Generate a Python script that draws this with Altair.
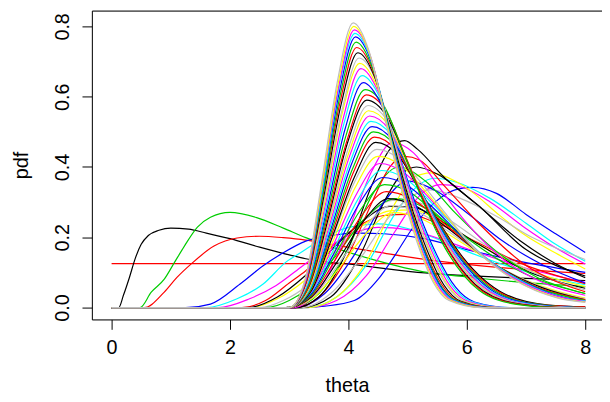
import altair as alt
import pandas as pd

# R default palette (pre-4.0)
PALETTE = ["#000000", "#FF0000", "#00CD00", "#0000FF", "#00FFFF", "#FF00FF", "#FFFF00", "#BEBEBE"]

x_ticks = [0, 2, 4, 6, 8]
y_ticks = [0.0, 0.2, 0.4, 0.6, 0.8]

# ---- early posteriors (theta, pdf) ----
early_curves = [
    [(0, 0.125), (8, 0.125)],
    [(0, 0), (0.12, 0), (0.2, 0.035), (0.3, 0.085), (0.4, 0.14), (0.5, 0.18), (0.62, 0.205), (0.8, 0.22), (1.0, 0.226), (1.3, 0.223), (1.6, 0.212), (2.0, 0.196), (2.5, 0.172), (3.0, 0.15), (3.28, 0.139), (4.2, 0.12), (5.17, 0.10), (6.0, 0.091), (7.0, 0.083), (8.0, 0.077)],
    [(0, 0), (0.48, 0), (0.67, 0.044), (0.89, 0.081), (1.05, 0.125), (1.23, 0.175), (1.45, 0.229), (1.67, 0.257), (2.0, 0.271), (2.45, 0.256), (2.9, 0.226), (3.28, 0.199), (3.95, 0.16), (4.45, 0.135), (5.33, 0.1), (6.0, 0.087), (7.0, 0.071), (8.0, 0.06)],
    [(0, 0), (0.55, 0), (0.89, 0.044), (1.1, 0.085), (1.35, 0.125), (1.73, 0.175), (2.12, 0.198), (2.5, 0.203), (2.9, 0.199), (3.28, 0.192), (3.62, 0.182), (4.5, 0.158), (5.17, 0.14), (6.0, 0.123), (7.0, 0.108), (8.0, 0.097)],
    [(0, 0), (1.25, 0), (1.67, 0.01), (2.17, 0.067), (2.56, 0.119), (2.9, 0.156), (3.28, 0.189), (3.7, 0.205), (4.2, 0.212), (4.6, 0.21), (5.28, 0.196), (6.0, 0.165), (7.0, 0.128), (8.0, 0.1)],
    [(0, 0), (1.6, 0), (2.12, 0.025), (2.56, 0.067), (2.95, 0.13), (3.23, 0.16), (3.6, 0.2), (4.0, 0.228), (4.5, 0.238), (5.0, 0.225), (5.5, 0.195), (6.0, 0.16), (7.0, 0.102), (8.0, 0.065)],
    [(0, 0), (1.8, 0), (2.33, 0.025), (2.78, 0.063), (3.23, 0.119), (3.6, 0.165), (4.0, 0.205), (4.5, 0.228), (5.0, 0.222), (5.5, 0.198), (6.0, 0.168), (7.0, 0.112), (8.0, 0.072)],
    [(0, 0), (2.2, 0), (2.6, 0.02), (3.0, 0.07), (3.28, 0.105), (3.7, 0.17), (4.2, 0.235), (4.6, 0.262), (5.0, 0.265), (5.5, 0.24), (6.0, 0.2), (7.0, 0.12), (8.0, 0.068)],
    [(0, 0), (2.35, 0), (2.8, 0.025), (3.28, 0.08), (3.7, 0.15), (4.2, 0.228), (4.7, 0.275), (5.1, 0.278), (5.6, 0.24), (6.2, 0.18), (7.0, 0.11), (8.0, 0.06)],
    [(0, 0), (2.3, 0), (2.8, 0.03), (3.28, 0.092), (3.75, 0.17), (4.25, 0.248), (4.7, 0.288), (5.1, 0.285), (5.6, 0.243), (6.2, 0.18), (7.0, 0.105), (8.0, 0.055)],
    [(0, 0), (2.5, 0), (2.9, 0.02), (3.28, 0.06), (3.8, 0.16), (4.3, 0.255), (4.75, 0.305), (5.2, 0.298), (5.7, 0.25), (6.3, 0.18), (7.0, 0.11), (8.0, 0.05)],
    [(0, 0), (2.6, 0), (3.0, 0.02), (3.28, 0.05), (3.8, 0.15), (4.3, 0.258), (4.8, 0.31), (5.3, 0.283), (5.8, 0.222), (6.5, 0.14), (7.2, 0.08), (8.0, 0.04)],
]
early_colors = ["#FF0000", "#000000", "#00CD00", "#FF0000", "#0000FF", "#00FFFF",
                "#FF00FF", "#FF0000", "#FFFF00", "#000000", "#BEBEBE", "#00CD00"]

# ---- wide / heavy-tailed posteriors ----
wide_curves = [
    [(0, 0), (3.2, 0), (3.6, 0.004), (4.1, 0.02), (4.5, 0.08), (4.78, 0.147), (5.1, 0.23), (5.5, 0.305), (5.8, 0.335), (6.1, 0.342), (6.5, 0.325), (7.0, 0.265), (7.5, 0.21), (8.0, 0.157)],
    [(0, 0), (3.3, 0), (3.8, 0.02), (4.3, 0.09), (4.8, 0.22), (5.2, 0.318), (5.55, 0.35), (5.9, 0.343), (6.4, 0.3), (6.95, 0.231), (7.5, 0.17), (8.0, 0.124)],
    [(0, 0), (3.3, 0), (3.8, 0.03), (4.3, 0.12), (4.8, 0.27), (5.2, 0.35), (5.45, 0.368), (5.8, 0.358), (6.4, 0.31), (7.0, 0.24), (7.5, 0.18), (8.0, 0.132)],
    [(0, 0), (3.3, 0), (3.8, 0.03), (4.3, 0.13), (4.8, 0.3), (5.1, 0.37), (5.4, 0.383), (5.8, 0.36), (6.12, 0.325), (6.5, 0.27), (6.95, 0.21), (7.5, 0.155), (8.0, 0.11)],
    [(0, 0), (3.2, 0), (3.7, 0.03), (4.2, 0.15), (4.6, 0.3), (4.9, 0.38), (5.15, 0.4), (5.5, 0.38), (6.12, 0.3), (6.9, 0.19), (7.5, 0.125), (8.0, 0.085)],
    [(0, 0), (3.2, 0), (3.7, 0.04), (4.2, 0.14), (4.7, 0.26), (5.1, 0.32), (5.4, 0.335), (5.9, 0.31), (6.5, 0.26), (7.1, 0.2), (7.6, 0.163), (8.0, 0.137)],
    [(0, 0), (3.1, 0), (3.6, 0.04), (4.1, 0.15), (4.6, 0.3), (5.0, 0.36), (5.5, 0.33), (6.0, 0.27), (6.6, 0.19), (7.3, 0.12), (8.0, 0.07)],
    [(0, 0), (3.05, 0), (3.5, 0.04), (4.0, 0.17), (4.4, 0.32), (4.85, 0.4), (5.3, 0.36), (5.8, 0.27), (6.5, 0.16), (7.2, 0.085), (8.0, 0.04)],
    [(0, 0), (3.1, 0), (3.5, 0.03), (4.0, 0.15), (4.4, 0.3), (4.7, 0.4), (4.95, 0.43), (5.2, 0.42), (5.6, 0.35), (6.2, 0.24), (7.0, 0.12), (7.5, 0.075), (8.0, 0.045)],
    [(0, 0), (3.1, 0), (3.5, 0.03), (4.0, 0.17), (4.4, 0.35), (4.7, 0.45), (4.95, 0.475), (5.17, 0.45), (5.62, 0.37), (6.22, 0.287), (7.0, 0.165), (7.5, 0.12), (8.0, 0.09)],
    [(0, 0), (3.05, 0), (3.5, 0.05), (4.0, 0.22), (4.4, 0.39), (4.75, 0.47), (5.1, 0.44), (5.5, 0.35), (6.0, 0.24), (6.6, 0.14), (7.3, 0.07), (8.0, 0.035)],
]
wide_colors = ["#0000FF", "#FF00FF", "#00FFFF", "#FFFF00", "#000000", "#BEBEBE",
               "#0000FF", "#00CD00", "#FF0000", "#000000", "#FF00FF"]

# ---- main bundle, lowest to tallest (drawn in this order); all zero from theta = 0 ----
low_curves = [
    [(2.95, 0), (3.40, 0.027), (3.86, 0.116), (4.31, 0.213), (4.76, 0.270), (5.21, 0.254), (5.67, 0.211), (6.12, 0.162), (6.57, 0.113), (7.48, 0.049), (8.0, 0.027)],
    [(2.95, 0), (3.39, 0.029), (3.84, 0.125), (4.28, 0.229), (4.72, 0.290), (5.16, 0.273), (5.61, 0.226), (6.05, 0.174), (6.49, 0.122), (7.38, 0.052), (8.0, 0.025)],
    [(2.95, 0), (3.38, 0.031), (3.82, 0.133), (4.25, 0.245), (4.68, 0.310), (5.11, 0.291), (5.55, 0.242), (5.98, 0.186), (6.41, 0.130), (7.28, 0.056), (8.0, 0.022)],
    [(2.95, 0), (3.37, 0.033), (3.80, 0.142), (4.22, 0.261), (4.64, 0.330), (5.06, 0.310), (5.49, 0.257), (5.91, 0.198), (6.33, 0.139), (7.18, 0.059), (8.0, 0.022)],
    [(2.95, 0), (3.37, 0.035), (3.78, 0.151), (4.20, 0.277), (4.61, 0.350), (5.03, 0.329), (5.44, 0.273), (5.86, 0.210), (6.27, 0.147), (7.10, 0.063), (8.0, 0.020)],
    [(2.95, 0), (3.36, 0.037), (3.77, 0.159), (4.17, 0.292), (4.58, 0.370), (4.99, 0.348), (5.40, 0.289), (5.80, 0.222), (6.21, 0.155), (7.03, 0.067), (7.84, 0.022), (8.0, 0.019)],
    [(2.95, 0), (3.35, 0.039), (3.76, 0.168), (4.16, 0.308), (4.56, 0.390), (4.96, 0.367), (5.37, 0.304), (5.77, 0.234), (6.17, 0.164), (6.98, 0.070), (7.78, 0.023), (8.0, 0.019)],
    [(2.95, 0), (3.35, 0.041), (3.74, 0.176), (4.14, 0.324), (4.53, 0.410), (4.93, 0.385), (5.32, 0.320), (5.72, 0.246), (6.11, 0.172), (6.90, 0.074), (7.69, 0.025), (8.0, 0.017)],
    [(2.95, 0), (3.34, 0.043), (3.73, 0.185), (4.11, 0.340), (4.50, 0.430), (4.89, 0.404), (5.28, 0.335), (5.66, 0.258), (6.05, 0.181), (6.83, 0.077), (7.60, 0.026), (8.0, 0.016)],
    [(2.95, 0), (3.33, 0.045), (3.72, 0.194), (4.10, 0.356), (4.48, 0.450), (4.86, 0.423), (5.25, 0.351), (5.63, 0.270), (6.01, 0.189), (6.78, 0.081), (7.54, 0.027), (8.0, 0.015)],
]
mid_curves = [
    [(3.0, 0), (3.37, 0.047), (3.73, 0.202), (4.10, 0.371), (4.46, 0.470), (4.83, 0.435), (5.19, 0.338), (5.56, 0.235), (5.92, 0.146), (6.65, 0.038), (7.38, 0.007), (8.0, 0.002)],
    [(3.0, 0), (3.36, 0.049), (3.72, 0.209), (4.08, 0.383), (4.44, 0.485), (4.80, 0.449), (5.16, 0.349), (5.52, 0.243), (5.88, 0.150), (6.60, 0.039), (7.32, 0.007), (8.0, 0.002)],
    [(3.0, 0), (3.36, 0.050), (3.71, 0.215), (4.07, 0.395), (4.42, 0.500), (4.78, 0.463), (5.13, 0.360), (5.49, 0.250), (5.84, 0.155), (6.55, 0.040), (7.26, 0.008), (7.97, 0), (8.0, 0)],
    [(3.0, 0), (3.35, 0.052), (3.70, 0.221), (4.05, 0.407), (4.40, 0.515), (4.75, 0.476), (5.10, 0.371), (5.45, 0.258), (5.80, 0.160), (6.50, 0.041), (7.20, 0.008), (7.90, 0), (8.0, 0)],
    [(3.0, 0), (3.35, 0.053), (3.69, 0.228), (4.04, 0.419), (4.38, 0.530), (4.73, 0.490), (5.07, 0.382), (5.42, 0.265), (5.76, 0.164), (6.45, 0.042), (7.14, 0.008), (7.83, 0), (8.0, 0)],
    [(3.0, 0), (3.34, 0.055), (3.68, 0.234), (4.02, 0.431), (4.36, 0.545), (4.70, 0.504), (5.04, 0.392), (5.38, 0.273), (5.72, 0.169), (6.40, 0.044), (7.08, 0.008), (7.76, 0), (8.0, 0)],
    [(3.0, 0), (3.34, 0.056), (3.67, 0.241), (4.01, 0.442), (4.34, 0.560), (4.68, 0.518), (5.01, 0.403), (5.35, 0.280), (5.68, 0.174), (6.35, 0.045), (7.02, 0.008), (7.69, 0), (8.0, 0)],
    [(3.0, 0), (3.33, 0.058), (3.67, 0.247), (4.00, 0.454), (4.33, 0.575), (4.66, 0.532), (5.00, 0.414), (5.33, 0.288), (5.66, 0.178), (6.33, 0.046), (6.99, 0.009), (7.66, 0), (8.0, 0)],
    [(3.0, 0), (3.33, 0.059), (3.66, 0.254), (3.98, 0.466), (4.31, 0.590), (4.64, 0.546), (4.97, 0.425), (5.29, 0.295), (5.62, 0.183), (6.28, 0.047), (6.93, 0.009), (7.59, 0), (8.0, 0)],
    [(3.0, 0), (3.33, 0.061), (3.65, 0.260), (3.98, 0.478), (4.30, 0.605), (4.63, 0.560), (4.95, 0.436), (5.28, 0.303), (5.60, 0.188), (6.25, 0.048), (6.90, 0.009), (7.55, 0), (8.0, 0)],
    [(3.0, 0), (3.32, 0.062), (3.64, 0.267), (3.96, 0.490), (4.28, 0.620), (4.60, 0.574), (4.92, 0.446), (5.24, 0.310), (5.56, 0.192), (6.20, 0.050), (6.84, 0.009), (7.48, 0), (8.0, 0)],
]
tall_curves = [
    [(3.0, 0), (3.31, 0.064), (3.63, 0.275), (3.94, 0.506), (4.25, 0.640), (4.56, 0.576), (4.88, 0.422), (5.19, 0.269), (5.50, 0.147), (5.81, 0.058), (6.13, 0.016), (6.75, 0), (8.0, 0)],
    [(3.0, 0), (3.31, 0.066), (3.62, 0.284), (3.92, 0.521), (4.23, 0.660), (4.54, 0.594), (4.85, 0.436), (5.15, 0.277), (5.46, 0.152), (5.77, 0.059), (6.08, 0.017), (6.69, 0), (8.0, 0)],
    [(3.0, 0), (3.30, 0.068), (3.61, 0.292), (3.91, 0.537), (4.21, 0.680), (4.51, 0.612), (4.82, 0.449), (5.12, 0.286), (5.42, 0.156), (5.72, 0.061), (6.03, 0.017), (6.63, 0), (8.0, 0)],
    [(3.0, 0), (3.30, 0.070), (3.60, 0.299), (3.89, 0.549), (4.19, 0.695), (4.49, 0.626), (4.79, 0.459), (5.08, 0.292), (5.38, 0.160), (5.68, 0.063), (5.98, 0.017), (6.57, 0), (8.0, 0)],
    [(3.0, 0), (3.30, 0.071), (3.59, 0.305), (3.89, 0.561), (4.18, 0.710), (4.48, 0.639), (4.77, 0.469), (5.07, 0.298), (5.36, 0.163), (5.66, 0.064), (5.95, 0.018), (6.54, 0), (8.0, 0)],
    [(3.0, 0), (3.29, 0.073), (3.58, 0.312), (3.87, 0.573), (4.16, 0.725), (4.45, 0.653), (4.74, 0.479), (5.03, 0.305), (5.32, 0.167), (5.61, 0.065), (5.90, 0.018), (6.48, 0), (8.0, 0)],
    [(3.0, 0), (3.29, 0.074), (3.57, 0.318), (3.86, 0.585), (4.14, 0.740), (4.43, 0.666), (4.71, 0.488), (5.00, 0.311), (5.28, 0.170), (5.57, 0.067), (5.85, 0.019), (6.42, 0), (8.0, 0)],
    [(3.0, 0), (3.28, 0.076), (3.57, 0.325), (3.85, 0.596), (4.13, 0.755), (4.41, 0.680), (4.70, 0.498), (4.98, 0.317), (5.26, 0.174), (5.54, 0.068), (5.83, 0.019), (6.39, 0), (8.0, 0)],
    [(3.0, 0), (3.28, 0.077), (3.56, 0.331), (3.84, 0.608), (4.12, 0.770), (4.40, 0.693), (4.68, 0.508), (4.96, 0.323), (5.24, 0.177), (5.52, 0.069), (5.80, 0.019), (6.36, 0), (8.0, 0)],
    [(3.0, 0), (3.28, 0.078), (3.56, 0.335), (3.83, 0.616), (4.11, 0.780), (4.39, 0.702), (4.67, 0.515), (4.94, 0.328), (5.22, 0.179), (5.50, 0.070), (5.78, 0.020), (6.33, 0), (8.0, 0)],
    [(3.0, 0), (3.28, 0.079), (3.55, 0.340), (3.83, 0.624), (4.10, 0.790), (4.38, 0.711), (4.65, 0.521), (4.93, 0.332), (5.20, 0.182), (5.48, 0.071), (5.75, 0.020), (6.30, 0), (8.0, 0)],
    [(3.0, 0), (3.27, 0.080), (3.55, 0.344), (3.82, 0.632), (4.09, 0.800), (4.36, 0.720), (4.64, 0.528), (4.91, 0.336), (5.18, 0.184), (5.45, 0.072), (5.73, 0.020), (6.27, 0), (8.0, 0)],
    [(3.0, 0), (3.27, 0.081), (3.54, 0.348), (3.81, 0.640), (4.08, 0.810), (4.35, 0.729), (4.62, 0.535), (4.89, 0.340), (5.16, 0.186), (5.43, 0.073), (5.70, 0.020), (6.24, 0), (8.0, 0)],
]

# ---- build long table ----
curves, colors = [], []
for pts, col in zip(early_curves, early_colors):
    curves.append(pts); colors.append(col)
for pts, col in zip(wide_curves, wide_colors):
    curves.append(pts); colors.append(col)
bundle = low_curves + mid_curves + tall_curves
nb = len(bundle)
for j, pts in enumerate(bundle):
    curves.append([(0.0, 0.0)] + pts)
    colors.append(PALETTE[(j + 7 - (nb - 1)) % 8])

rows, names = [], []
for i, pts in enumerate(curves):
    name = f"c{i:03d}"
    names.append(name)
    for k, (t, p) in enumerate(pts):
        rows.append({"curve": name, "k": k, "theta": t, "pdf": p})
df = pd.DataFrame(rows)

FONT = "Liberation Sans"
xscale = alt.Scale(domain=[-0.333, 8.283], nice=False, zero=False)
yscale = alt.Scale(domain=[-0.0337, 0.8449], nice=False, zero=False)

y_axis = alt.Axis(
    values=y_ticks, format=".1f", title="pdf", grid=False,
    tickSize=10, tickColor="black", domainColor="black", tickWidth=1, domainWidth=1,
    labelFont=FONT, labelFontSize=20, labelColor="black", labelPadding=10,
    labelAngle=270, labelAlign="center", labelBaseline="bottom",
    titleFont=FONT, titleFontSize=20, titleFontWeight="normal", titleColor="black",
    titleAngle=270, titleX=-71, titleY=156.5, titleBaseline="middle", titleAlign="center")

lines = alt.Chart(df).mark_line(interpolate="monotone", strokeWidth=1.2, clip=True).encode(
    x=alt.X("theta:Q", scale=xscale, axis=alt.Axis(
        values=x_ticks, format="d", title="theta", grid=False,
        tickSize=10, tickColor="black", domainColor="black", tickWidth=1, domainWidth=1,
        labelFont=FONT, labelFontSize=20, labelColor="black", labelPadding=9,
        titleFont=FONT, titleFontSize=20, titleFontWeight="normal", titleColor="black",
        titleY=67, titleBaseline="middle")),
    y=alt.Y("pdf:Q", scale=yscale, axis=y_axis),
    color=alt.Color("curve:N", scale=alt.Scale(domain=names, range=colors), legend=None),
    order=alt.Order("k:Q"),
)

top = alt.Chart(df).mark_line(opacity=0).encode(
    x=alt.X("theta:Q", scale=xscale, axis=alt.Axis(
        orient="top", labels=False, ticks=False, title=None, grid=False,
        domainColor="black", domainWidth=1)),
    y=alt.Y("pdf:Q", scale=yscale, axis=y_axis),
    detail="curve:N",
)

chart = alt.layer(lines, top).resolve_axis(x="independent").properties(
    width=517, height=313,
    autosize=alt.AutoSizeParams(type="none"),
    padding={"left": 85, "top": 0, "right": 0, "bottom": 78},
).configure_view(stroke=None).configure(background="white")

chart.save("out.html", embed_options={"renderer": "svg", "actions": False})
